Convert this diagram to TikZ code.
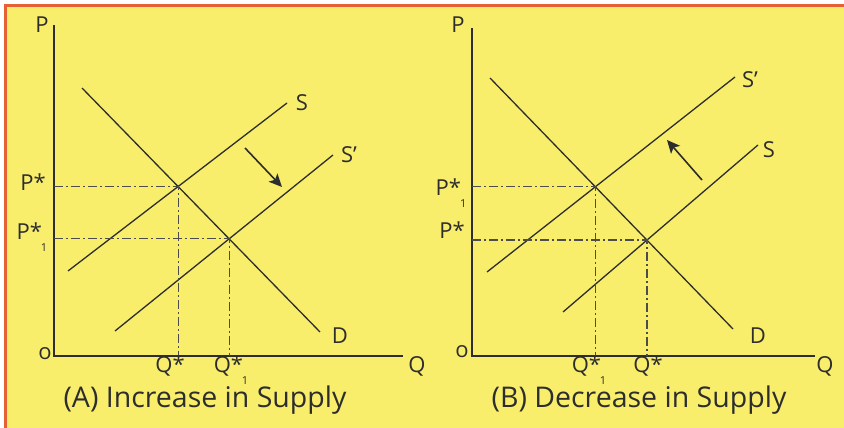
\documentclass[tikz,border=0pt]{standalone}
\usepackage{fontspec}
\setmainfont{Open Sans}
\usetikzlibrary{arrows.meta}
\definecolor{panel}{RGB}{248,238,108}
\definecolor{rim}{RGB}{230,96,52}
\definecolor{ink}{RGB}{45,45,45}
\newcommand{\starone}[1]{#1*\kern-0.05em\smash{\raisebox{-0.55em}{\fontsize{11}{11}\selectfont 1}}}

\begin{document}
\begin{tikzpicture}[x=1pt, y=1pt,
  every node/.style={font=\fontsize{22}{24}\selectfont, text=ink, inner sep=0pt},
  curve/.style={ink, line width=1.3pt},
  guide/.style={ink!85, line width=1.2pt, dash pattern=on 9pt off 3pt on 2pt off 3pt},
  movearrow/.style={ink, line width=1.6pt, -{Stealth[length=13pt, width=12pt, inset=3pt]}},
  caption/.style={font=\fontsize{28.5}{30}\selectfont}]
  % page and frame
  \useasboundingbox (0,0) rectangle (844,428);
  \fill[white] (0,0) rectangle (844,428);
  \fill[panel] (5,0) rectangle (844,422);
  \draw[rim, line width=3pt] (5,0) -- (5,422) -- (844,422);

  % (A) axes
  \coordinate (oA) at (54,72);
  \coordinate (pA) at (54,403);
  \coordinate (qA) at (403,72);
  \draw[curve] (pA) -- (oA) -- (qA);
  \node (PA) at (42,403) {P};
  \node (zA) at (45,74) {o};
  \node (QA) at (417,62) {Q};
  % (A) demand, supply, shifted supply
  \coordinate (dA1) at (82,340);  \coordinate (dA2) at (320,96);
  \coordinate (sA1) at (68,157);  \coordinate (sA2) at (287,325);
  \coordinate (tA1) at (115,97);  \coordinate (tA2) at (333,273);
  \draw[curve] (dA1) -- (dA2);
  \draw[curve] (sA1) -- (sA2);
  \draw[curve] (tA1) -- (tA2);
  \node (SA) at (302,325) {S};
  \node (TA) at (349,273) {S’};
  \node (DA) at (340,92) {D};
  % (A) equilibria
  \coordinate (eA) at (intersection of dA1--dA2 and sA1--sA2);
  \coordinate (fA) at (intersection of dA1--dA2 and tA1--tA2);
  \draw[guide] (oA |- eA) -- (eA) -- (eA |- oA);
  \draw[guide] (oA |- fA) -- (fA) -- (fA |- oA);
  \node (pstarA) at (33,246) {P*};
  \node (ponerA) at (32,197) {\starone{P}};
  \node (qstarA) at (170,62) {Q*};
  \node (qoneA) at (231,62) {\starone{Q}};
  \coordinate (aA1) at (245,280);
  \coordinate (aA2) at (282,241);
  \draw[movearrow] (aA1) -- (aA2);
  \node[caption] (capA) at (205,28) {(A) Increase in Supply};

  % (B) axes
  \coordinate (oB) at (472,72);
  \coordinate (pB) at (472,400);
  \coordinate (qB) at (815,72);
  \draw[curve] (pB) -- (oB) -- (qB);
  \node (PB) at (458,403) {P};
  \node (zB) at (462,76) {o};
  \node (QB) at (825,62) {Q};
  % (B) demand, supply, shifted supply
  \coordinate (dB1) at (490,350); \coordinate (dB2) at (733,99);
  \coordinate (sB1) at (563,116); \coordinate (sB2) at (758,283);
  \coordinate (tB1) at (487,156); \coordinate (tB2) at (735,351);
  \draw[curve] (dB1) -- (dB2);
  \draw[curve] (sB1) -- (sB2);
  \draw[curve] (tB1) -- (tB2);
  \node (SB) at (769,278) {S};
  \node (TB) at (750,348) {S’};
  \node (DB) at (758,92) {D};
  % (B) equilibria
  \coordinate (eB) at (intersection of dB1--dB2 and sB1--sB2);
  \coordinate (fB) at (intersection of dB1--dB2 and tB1--tB2);
  \draw[guide] (oB |- eB) -- (eB) -- (eB |- oB);
  \draw[guide] (oB |- fB) -- (fB) -- (fB |- oB);
  \node (pstarB) at (452,198) {P*};
  \node (poneB) at (451,241) {\starone{P}};
  \node (qoneB) at (589,62) {\starone{Q}};
  \node (qstarB) at (648,62) {Q*};
  \coordinate (aB1) at (702,248);
  \coordinate (aB2) at (667,288);
  \draw[movearrow] (aB1) -- (aB2);
  \node[caption] (capB) at (639,28) {(B) Decrease in Supply};
\end{tikzpicture}
\end{document}
